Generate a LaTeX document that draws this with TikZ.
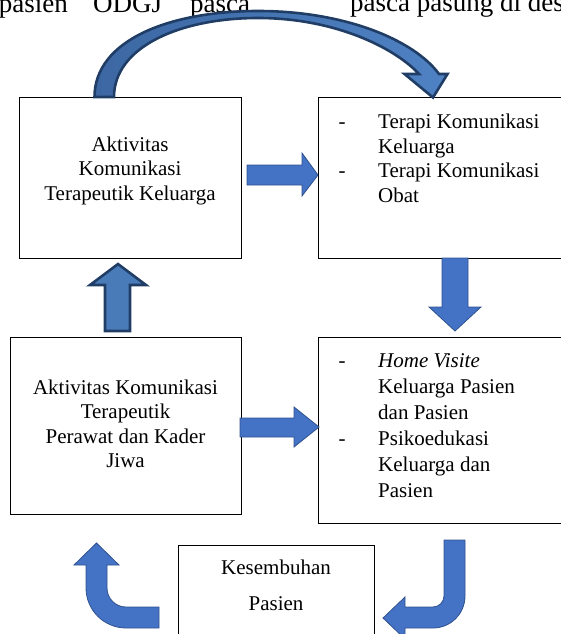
\documentclass[tikz,border=0pt]{standalone}
\usepackage{fontspec}
\setmainfont{Liberation Serif}
\definecolor{abfill}{HTML}{4472C4}
\definecolor{abline}{HTML}{2F528F}
\definecolor{cvfillA}{HTML}{3C67A2}
\definecolor{cvfillB}{HTML}{4F82C4}
\definecolor{cvfill}{HTML}{4A7BB9}
\definecolor{cvline}{HTML}{203D66}
\begin{document}
\begin{tikzpicture}[x=1pt,y=-1pt,
  box/.style={draw=black, line width=0.9pt, inner sep=0pt, anchor=north west},
  txt/.style={font=\fontsize{21}{24.5}\selectfont, inner sep=0pt},
  toptxt/.style={font=\fontsize{27}{30}\selectfont, inner sep=0pt},
  blk/.style={fill=abfill, draw=abline, line width=0.8pt, line join=miter},
  darkblk/.style={draw=cvline, line width=2.6pt, line join=miter}]
\useasboundingbox (0,0) rectangle (561,634);

% cut-off text at the top
\node[toptxt, anchor=base east] (t1) at (68,12.5) {pasien};
\node[toptxt, anchor=base west] (t2) at (93,12.5) {ODGJ};
\node[toptxt, anchor=base west] (t3) at (190,12.5) {pasca};
\node[toptxt, anchor=base west] (t4) at (350,12) {pasca pasung di desa};

% boxes
\node[box, minimum width=222pt, minimum height=161pt] (b1) at (19,97) {};
\node[box, minimum width=248pt, minimum height=161pt] (b2) at (318,97) {};
\node[box, minimum width=231pt, minimum height=177pt] (b3) at (10,337) {};
\node[box, minimum width=248pt, minimum height=186pt] (b4) at (318,337) {};
\node[box, minimum width=196pt, minimum height=95pt] (b5) at (178,545) {};

% box 1 text
\node[txt, anchor=base] (b1a) at (130,151) {Aktivitas};
\node[txt, anchor=base] (b1b) at (130,175.5) {Komunikasi};
\node[txt, anchor=base] (b1c) at (130,200) {Terapeutik Keluarga};

% box 2 text
\node[txt, anchor=base] (b2d1) at (342,128) {-};
\node[txt, anchor=base] (b2d2) at (342,177) {-};
\node[txt, anchor=base west] (b2a) at (378,128) {Terapi Komunikasi};
\node[txt, anchor=base west] (b2b) at (378,153) {Keluarga};
\node[txt, anchor=base west] (b2c) at (378,177) {Terapi Komunikasi};
\node[txt, anchor=base west] (b2e) at (378,202) {Obat};

% box 3 text
\node[txt, anchor=base] (b3a) at (125.5,394) {Aktivitas Komunikasi};
\node[txt, anchor=base] (b3b) at (125.5,418) {Terapeutik};
\node[txt, anchor=base] (b3c) at (125.5,443) {Perawat dan Kader};
\node[txt, anchor=base] (b3e) at (125.5,467) {Jiwa};

% box 4 text
\node[txt, anchor=base] (b4d1) at (342,367) {-};
\node[txt, anchor=base] (b4d2) at (342,445) {-};
\node[txt, anchor=base west] (b4a) at (378,367) {\itshape Home Visite};
\node[txt, anchor=base west] (b4b) at (378,393) {Keluarga Pasien};
\node[txt, anchor=base west] (b4c) at (378,419) {dan Pasien};
\node[txt, anchor=base west] (b4e) at (378,445) {Psikoedukasi};
\node[txt, anchor=base west] (b4f) at (378,471) {Keluarga dan};
\node[txt, anchor=base west] (b4g) at (378,497) {Pasien};

% box 5 text
\node[txt, anchor=base] (b5a) at (276,574) {Kesembuhan};
\node[txt, anchor=base] (b5b) at (276,610) {Pasien};

% straight block arrows
\draw[blk] (247,165) -- (302,165) -- (302,153) -- (318,175) -- (302,196) -- (302,185) -- (247,185) -- cycle;
\draw[blk] (240,418) -- (294,418) -- (294,407) -- (319,427) -- (294,447) -- (294,437) -- (240,437) -- cycle;
\draw[blk] (442,258) -- (468,258) -- (468,307) -- (481,307) -- (455,331) -- (429,307) -- (442,307) -- cycle;

% bent arrows at the bottom
\draw[blk] (86,565) -- (74,565) -- (96.5,543) -- (119,565) -- (107,565) -- (107,588)
  .. controls (107,598.5) and (115.5,607) .. (126,607) -- (159,607) -- (159,628) -- (126,628)
  .. controls (104,628) and (86,610) .. (86,588) -- cycle;
\draw[blk] (444,540) -- (465,540) -- (465,596) .. controls (465,613.7) and (450.7,628) .. (433,628)
  -- (405,628) -- (405,639) -- (383,618) -- (405,597) -- (405,607) -- (433,607)
  .. controls (439,607) and (444,602) .. (444,596) -- cycle;

% dark-outlined up arrow
\draw[darkblk, fill=cvfill] (105,331) -- (105,285) -- (90,285) -- (118,264) -- (146,285) -- (130,285) -- (130,331) -- cycle;

% curved arrow over the top
\draw[darkblk, left color=cvfillA, right color=cvfillB]
  (94.5,97) .. controls (94.5,40) and (170,11) .. (258,11)
  .. controls (345,11) and (414,40) .. (439,74) -- (447.5,74) -- (433,97.5) -- (404.5,74) -- (419,74)
  .. controls (395,48) and (335,18) .. (258,18)
  .. controls (180,18) and (114,47) .. (114,97) -- cycle;
\end{tikzpicture}
\end{document}
